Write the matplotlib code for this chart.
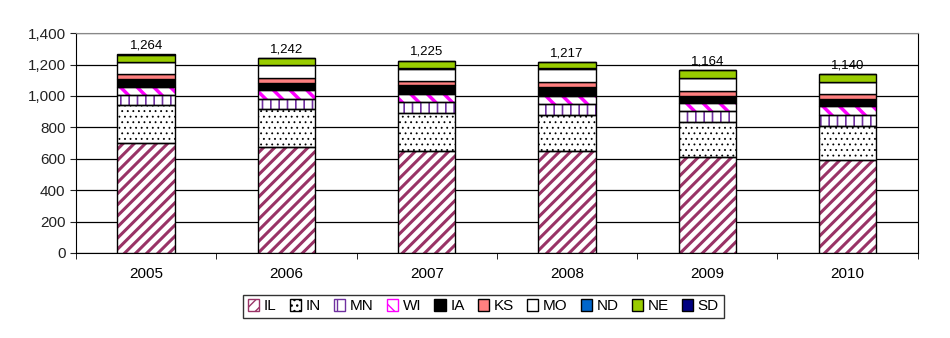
import matplotlib
matplotlib.use('Agg')
import matplotlib.pyplot as plt
import numpy as np
from matplotlib.patches import Patch
from matplotlib.ticker import FuncFormatter

plt.rcParams['font.family'] = ['Liberation Sans', 'DejaVu Sans']

years = ['2005', '2006', '2007', '2008', '2009', '2010']
totals = [1264, 1242, 1225, 1217, 1164, 1140]

il = [701, 673, 650, 648, 614, 595]
in_ = [244, 244, 244, 232, 218, 211]
mn = [64, 65, 66, 67, 73, 71]
wi = [50, 58, 51, 55, 47, 56]
ia = [47, 43, 56, 58, 49, 47]
ks = [32, 32, 25, 30, 32, 30]
mo = [79, 84, 82, 84, 80, 77]
nd = [1, 1, 1, 1, 1, 1]
ne = [45, 41, 49, 41, 49, 51]
sd = [1, 1, 1, 1, 1, 1]

# name, values, face, hatch colour, hatch, hatch width
series = [
    ('IL', il, 'white', '#993366', '///', 2.2),
    ('IN', in_, 'white', 'black', '...', 0.6),
    ('MN', mn, 'white', '#7030A0', '||', 1.2),
    ('WI', wi, 'white', '#FF00FF', '\\\\', 2.5),
    ('IA', ia, 'black', 'black', None, 1),
    ('KS', ks, '#FF8080', 'black', None, 1),
    ('MO', mo, 'white', 'black', None, 1),
    ('ND', nd, '#0066CC', 'black', None, 1),
    ('NE', ne, '#99CC00', 'black', None, 1),
    ('SD', sd, '#000080', 'black', None, 1),
]

fig = plt.figure(figsize=(9.5, 3.38), dpi=100)
ax = fig.add_axes([0.08, 0.2515, 0.886, 0.6505])

x = np.arange(len(years))
w = 0.41
bottom = np.zeros(len(years))
handles = []
for name, vals, fc, hc, hatch, hw in series:
    vals = np.array(vals, dtype=float)
    if hatch:
        with plt.rc_context({'hatch.linewidth': hw}):
            bars = ax.bar(x, vals, w, bottom=bottom, color=fc, edgecolor=hc,
                          hatch=hatch, linewidth=0, zorder=3)
            h = Patch(facecolor=fc, edgecolor=hc, hatch=hatch, label=name)
        for b in list(bars) + [h]:
            if hasattr(b, 'set_hatch_linewidth'):
                b.set_hatch_linewidth(hw)
        ax.bar(x, vals, w, bottom=bottom, color='none', edgecolor='black',
               linewidth=1.0, zorder=4)
        handles.append(h)
    else:
        ax.bar(x, vals, w, bottom=bottom, color=fc, edgecolor='black',
               linewidth=1.0, zorder=3)
        handles.append(Patch(facecolor=fc, edgecolor='black', label=name))
    bottom += vals

for xi, t in zip(x, totals):
    ax.text(xi, t + 18, f'{t:,}', ha='center', va='bottom', fontsize=9.5)

ax.set_xlim(-0.5, len(years) - 0.5)
ax.set_ylim(0, 1400)
ax.set_yticks(range(0, 1401, 200))
ax.yaxis.set_major_formatter(FuncFormatter(lambda v, p: f'{int(v):,}'))
ax.set_xticks(x)
ax.set_xticklabels(years)
ax.set_xticks(np.arange(-0.5, len(years)), minor=True)
ax.tick_params(axis='x', which='major', length=0, pad=10, labelsize=11)
ax.tick_params(axis='x', which='minor', length=4, direction='out')
ax.tick_params(axis='y', length=4, direction='out', labelsize=11, colors='#222222')
ax.yaxis.grid(True, color='black', linewidth=0.9, zorder=0)
ax.set_axisbelow(True)
for s in ['left', 'bottom', 'right']:
    ax.spines[s].set_color('black')
ax.spines['top'].set_color('#888888')

leg = ax.legend(handles=handles, loc='upper center', bbox_to_anchor=(0.484, -0.155),
                ncol=10, frameon=True, fancybox=False, edgecolor='black',
                handlelength=0.75, handleheight=0.75, handletextpad=0.3,
                columnspacing=0.85, fontsize=11, borderpad=0.3)
leg.get_frame().set_linewidth(1.0)

fig.savefig('out.png', dpi=100)
